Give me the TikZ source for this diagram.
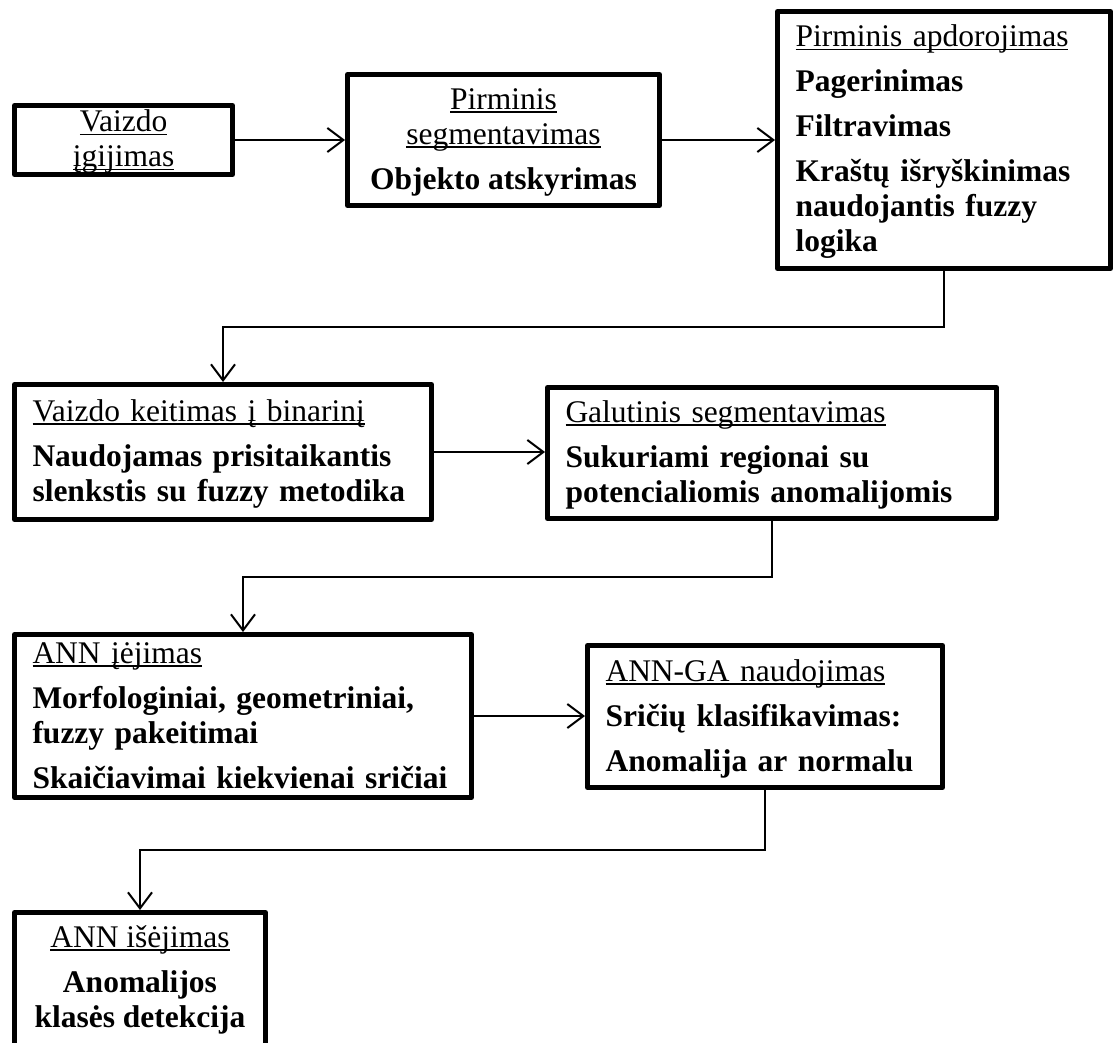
\documentclass[tikz,border=0pt]{standalone}
\usepackage{fontspec}
\setmainfont{Liberation Serif}
\usetikzlibrary{arrows.meta}
\newcommand\ulx[1]{\setbox0=\hbox{#1}\leavevmode\rlap{\rule[-3.5pt]{\wd0}{1.7pt}}\box0}
\newcommand\bl[1]{\mbox{\bfseries #1}}
\newcommand\fs{\rule{0pt}{26pt}}
\newcommand\ls{\rule[-7pt]{0pt}{7pt}}
\begin{document}
\begin{tikzpicture}[x=1pt,y=-1pt,
  box/.style={draw, line width=5pt, line join=round, inner sep=0pt,
    font=\fontsize{31.5}{35}\selectfont},
  conn/.style={line width=2pt, -{Straight Barb[length=16pt,width=24pt]}}]
\useasboundingbox (0,0) rectangle (1114,1043);
\clip (0,0) rectangle (1114,1043);
\node[box, minimum width=218pt, minimum height=69pt, align=center] (b1) at (123.5,140)
  {\fs\ulx{Vaizdo}\\\ulx{įgijimas}\ls};
\node[box, minimum width=312pt, minimum height=131pt, align=center] (b2) at (503.5,140)
  {\fs\ulx{Pirminis}\\\ulx{segmentavimas}\\[10pt]\bl{Objekto atskyrimas}\ls};
\node[box, minimum width=333pt, minimum height=257pt, text width=297pt, align=left] (b3) at (944,140)
  {\fs\ulx{Pirminis apdorojimas}\\[10pt]\bl{Pagerinimas}\\[10pt]\bl{Filtravimas}\\[10pt]\bl{Kraštų išryškinimas}\\\bl{naudojantis fuzzy}\\\bl{logika}\ls};
\node[box, minimum width=417pt, minimum height=135pt, text width=381pt, align=left] (b4) at (223,452)
  {\fs\ulx{Vaizdo keitimas į binarinį}\\[10pt]\bl{Naudojamas prisitaikantis}\\\bl{slenkstis su fuzzy metodika}\ls};
\node[box, minimum width=449pt, minimum height=131pt, text width=413pt, align=left] (b5) at (772,453)
  {\fs\ulx{Galutinis segmentavimas}\\[10pt]\bl{Sukuriami regionai su}\\\bl{potencialiomis anomalijomis}\ls};
\node[box, minimum width=457pt, minimum height=163pt, text width=421pt, align=left] (b6) at (243,716)
  {\fs\ulx{ANN įėjimas}\\[10pt]\bl{Morfologiniai, geometriniai,}\\\bl{fuzzy pakeitimai}\\[10pt]\bl{Skaičiavimai kiekvienai sričiai}\ls};
\node[box, minimum width=355pt, minimum height=142pt, text width=319pt, align=left] (b7) at (765,716.5)
  {\fs\ulx{ANN-GA naudojimas}\\[10pt]\bl{Sričių klasifikavimas:}\\[10pt]\bl{Anomalija ar normalu}\ls};
\node[box, minimum width=251pt, minimum height=140pt, align=center] (b8) at (140,982.5)
  {\fs\ulx{ANN išėjimas}\\[10pt]\bl{Anomalijos}\\\bl{klasės detekcija}\rule[-17pt]{0pt}{17pt}};
\draw[conn] (b1) -- (b2);
\draw[conn] (b2.east) -- (b2.east -| b3.west);
\draw[conn] (b3.south) -- ++(0,56) -| (b4.north);
\draw[conn] (b4.east) -- (b4.east -| b5.west);
\draw[conn] (b5.south) -- ++(0,56) -| (b6.north);
\draw[conn] (b6.east) -- (b6.east -| b7.west);
\draw[conn] (b7.south) -- ++(0,60) -| (b8.north);
\end{tikzpicture}
\end{document}
